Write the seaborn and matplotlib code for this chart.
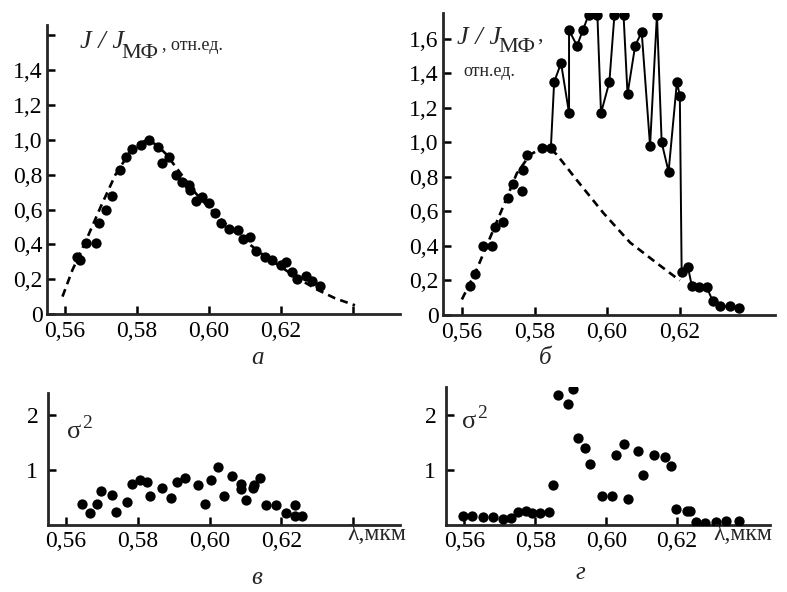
import seaborn as sns
import matplotlib.pyplot as plt

# panel a: intensity, scatter + dashed model curve
a_x = [0.5633, 0.5643, 0.5657, 0.5686, 0.5695, 0.5714, 0.5730, 0.5754, 0.5770, 0.5786,
       0.5812, 0.5833, 0.5857, 0.5870, 0.5888, 0.5907, 0.5926, 0.5945, 0.5948, 0.5965,
       0.5981, 0.6000, 0.6016, 0.6033, 0.6054, 0.6081, 0.6095, 0.6114, 0.6129, 0.6155,
       0.6176, 0.6200, 0.6213, 0.6229, 0.6245, 0.6270, 0.6286, 0.6308]
a_y = [0.33, 0.31, 0.41, 0.41, 0.52, 0.60, 0.68, 0.83, 0.90, 0.95,
       0.97, 1.00, 0.96, 0.87, 0.90, 0.80, 0.76, 0.74, 0.71, 0.65,
       0.67, 0.64, 0.58, 0.52, 0.49, 0.48, 0.43, 0.44, 0.36, 0.33,
       0.31, 0.28, 0.30, 0.24, 0.20, 0.22, 0.19, 0.16]
a_curve_x = [0.5593, 0.562, 0.566, 0.570, 0.574, 0.578, 0.5805, 0.583, 0.5855, 0.588,
             0.592, 0.596, 0.600, 0.605, 0.610, 0.615, 0.620, 0.625, 0.630, 0.635, 0.6405]
a_curve_y = [0.10, 0.25, 0.43, 0.62, 0.80, 0.93, 0.98, 1.00, 0.97, 0.92,
             0.81, 0.70, 0.61, 0.51, 0.42, 0.34, 0.27, 0.20, 0.14, 0.09, 0.05]

# panel b: scatter below threshold, connected points above, dashed curve
b_dot_x = [0.5621, 0.5637, 0.5658, 0.5683, 0.5692, 0.5713, 0.5726, 0.5742, 0.5765,
           0.5767, 0.5779, 0.5820]
b_dot_y = [0.17, 0.24, 0.40, 0.40, 0.51, 0.54, 0.68, 0.76, 0.72,
           0.84, 0.93, 0.97]
b_line_x = [0.5845, 0.5854, 0.5873, 0.5895, 0.5895, 0.5917, 0.5933, 0.5949, 0.5973,
            0.5983, 0.6006, 0.6020, 0.6045, 0.6056, 0.6077, 0.6095, 0.6118, 0.6137,
            0.6150, 0.6169, 0.6192, 0.6200, 0.6205, 0.6222, 0.6233, 0.6254, 0.6274,
            0.6291, 0.6311, 0.6339, 0.6364]
b_line_y = [0.97, 1.35, 1.46, 1.17, 1.65, 1.56, 1.65, 1.74, 1.74,
            1.17, 1.35, 1.74, 1.74, 1.28, 1.56, 1.64, 0.98, 1.74,
            1.00, 0.83, 1.35, 1.27, 0.25, 0.28, 0.17, 0.16, 0.16,
            0.08, 0.05, 0.05, 0.04]
b_curve_x = [0.560, 0.564, 0.568, 0.572, 0.5751, 0.5788, 0.5834, 0.5861, 0.5917,
             0.599, 0.6063, 0.6137, 0.620]
b_curve_y = [0.09, 0.26, 0.46, 0.66, 0.82, 0.93, 0.98, 0.93, 0.78,
             0.59, 0.42, 0.30, 0.20]

# panel c: sigma^2
c_x = [0.5645, 0.5667, 0.5686, 0.5698, 0.5729, 0.5740, 0.5771, 0.5784, 0.5807, 0.5827,
       0.5835, 0.5867, 0.5892, 0.5908, 0.5931, 0.5967, 0.5986, 0.6003, 0.6022, 0.6041,
       0.6062, 0.6088, 0.6088, 0.6100, 0.6121, 0.6124, 0.6141, 0.6157, 0.6186, 0.6214,
       0.6238, 0.6238, 0.6257]
c_y = [0.39, 0.21, 0.38, 0.62, 0.55, 0.24, 0.41, 0.75, 0.82, 0.79,
       0.52, 0.68, 0.49, 0.79, 0.85, 0.72, 0.38, 0.82, 1.05, 0.53,
       0.90, 0.75, 0.65, 0.45, 0.68, 0.73, 0.85, 0.36, 0.36, 0.21,
       0.36, 0.17, 0.17]

# panel d: sigma^2
d_x = [0.5595, 0.5622, 0.5652, 0.5680, 0.5708, 0.5731, 0.5750, 0.5773, 0.5792, 0.5813,
       0.5839, 0.5850, 0.5865, 0.5891, 0.5907, 0.5919, 0.5940, 0.5953, 0.5989, 0.6017,
       0.6028, 0.6050, 0.6062, 0.6090, 0.6104, 0.6134, 0.6167, 0.6184, 0.6197, 0.6228,
       0.6235, 0.6252, 0.6280, 0.6310, 0.6338, 0.6375]
d_y = [0.17, 0.17, 0.15, 0.14, 0.11, 0.13, 0.23, 0.25, 0.21, 0.21,
       0.23, 0.72, 2.35, 2.19, 2.47, 1.58, 1.40, 1.10, 0.53, 0.52,
       1.26, 1.47, 0.47, 1.34, 0.90, 1.26, 1.23, 1.06, 0.29, 0.26,
       0.26, 0.05, 0.03, 0.05, 0.07, 0.07]

x_ticks = [0.56, 0.58, 0.60, 0.62, 0.64]
x_labels = ['0,56', '0,58', '0,60', '0,62', '']
j_ticks = [0, 0.2, 0.4, 0.6, 0.8, 1.0, 1.2, 1.4, 1.6]
j_labels_a = ['0', '0,2', '0,4', '0,6', '0,8', '1,0', '1,2', '1,4', '']
j_labels_b = ['0', '0,2', '0,4', '0,6', '0,8', '1,0', '1,2', '1,4', '1,6']

sns.set_theme(style='ticks')
plt.rcParams['font.family'] = 'serif'
plt.rcParams['font.serif'] = ['Liberation Serif', 'DejaVu Serif']

W, H = 787, 592
fig = plt.figure(figsize=(W / 100, H / 100), dpi=100)


def box(l, t, r, b):
    return [l / W, 1 - b / H, (r - l) / W, (b - t) / H]


def fx(px):
    return px / W


def fy(py):
    return 1 - py / H


ax_a = fig.add_axes(box(47, 25, 400, 314))
ax_b = fig.add_axes(box(443, 13, 775, 315))
ax_c = fig.add_axes(box(48, 393, 400, 525))
ax_d = fig.add_axes(box(446, 387, 770, 525))

dot = dict(color='black', s=55, linewidth=0, zorder=3)
dash = dict(color='black', linewidth=1.9, linestyle=(0, (3, 2)), estimator=None, sort=False)

sns.lineplot(x=a_curve_x, y=a_curve_y, ax=ax_a, **dash)
sns.scatterplot(x=a_x, y=a_y, ax=ax_a, **dot)

sns.lineplot(x=b_curve_x, y=b_curve_y, ax=ax_b, **dash)
sns.scatterplot(x=b_dot_x, y=b_dot_y, ax=ax_b, **dot)
sns.lineplot(x=b_line_x, y=b_line_y, ax=ax_b, color='black', linewidth=1.4,
             estimator=None, sort=False, marker='o', markersize=7.5,
             markeredgewidth=0, zorder=3)

sns.scatterplot(x=c_x, y=c_y, ax=ax_c, **dot)
sns.scatterplot(x=d_x, y=d_y, ax=ax_d, **dot)

for ax in (ax_a, ax_b, ax_c, ax_d):
    sns.despine(ax=ax)
    for s in ('left', 'bottom'):
        ax.spines[s].set_linewidth(2.0)
    ax.tick_params(direction='in', length=6, width=1.8, labelsize=17, colors='black')
    ax.set_xticks(x_ticks)
    ax.set_xticklabels(x_labels)

ax_a.set_xlim(0.555, 0.653)
ax_a.set_ylim(0, 1.66)
ax_a.set_yticks(j_ticks)
ax_a.set_yticklabels(j_labels_a)
ax_b.set_xlim(0.5548, 0.6462)
ax_b.set_ylim(0, 1.75)
ax_b.set_yticks(j_ticks)
ax_b.set_yticklabels(j_labels_b)
ax_b.set_xticks(x_ticks[:4])
ax_b.set_xticklabels(x_labels[:4])
for ax in (ax_a, ax_b):
    ax.tick_params(axis='x', pad=5)
    ax.tick_params(axis='y', pad=3)

ax_c.set_xlim(0.555, 0.653)
ax_c.set_ylim(0, 2.4)
ax_d.set_xlim(0.5548, 0.6462)
ax_d.set_ylim(0, 2.5)
ax_d.set_xticks(x_ticks[:4])
ax_d.set_xticklabels(x_labels[:4])
for ax in (ax_c, ax_d):
    ax.set_yticks([1, 2])
    ax.set_yticklabels(['1', '2'])
    ax.tick_params(axis='x', pad=4)
    ax.tick_params(axis='y', pad=7)

# axis texts
fig.text(fx(80), fy(42), 'J / J', fontsize=19, style='italic', va='center')
fig.text(fx(121), fy(53), 'МФ', fontsize=16, va='center')
fig.text(fx(162), fy(46), ', отн.ед.', fontsize=13, va='center')
fig.text(fx(457), fy(38), 'J / J', fontsize=19, style='italic', va='center')
fig.text(fx(498), fy(47), 'МФ', fontsize=16, va='center')
fig.text(fx(537), fy(36), ',', fontsize=16, va='center')
fig.text(fx(463), fy(72), 'отн.ед.', fontsize=13, va='center')
fig.text(fx(67), fy(432), 'σ', fontsize=19, va='center')
fig.text(fx(82), fy(424), '2', fontsize=14, va='center')
fig.text(fx(462), fy(422), 'σ', fontsize=19, va='center')
fig.text(fx(477), fy(414), '2', fontsize=14, va='center')
fig.text(fx(347), fy(535), 'λ,мкм', fontsize=17, va='center')
fig.text(fx(713), fy(535), 'λ,мкм', fontsize=17, va='center')

# panel letters
for px, py, s in [(257, 358, 'а'), (545, 358, 'б'), (257, 578, 'в'), (580, 573, 'г')]:
    fig.text(fx(px), fy(py), s, fontsize=18, style='italic', ha='center', va='center')

fig.savefig('out.png', dpi=100)
